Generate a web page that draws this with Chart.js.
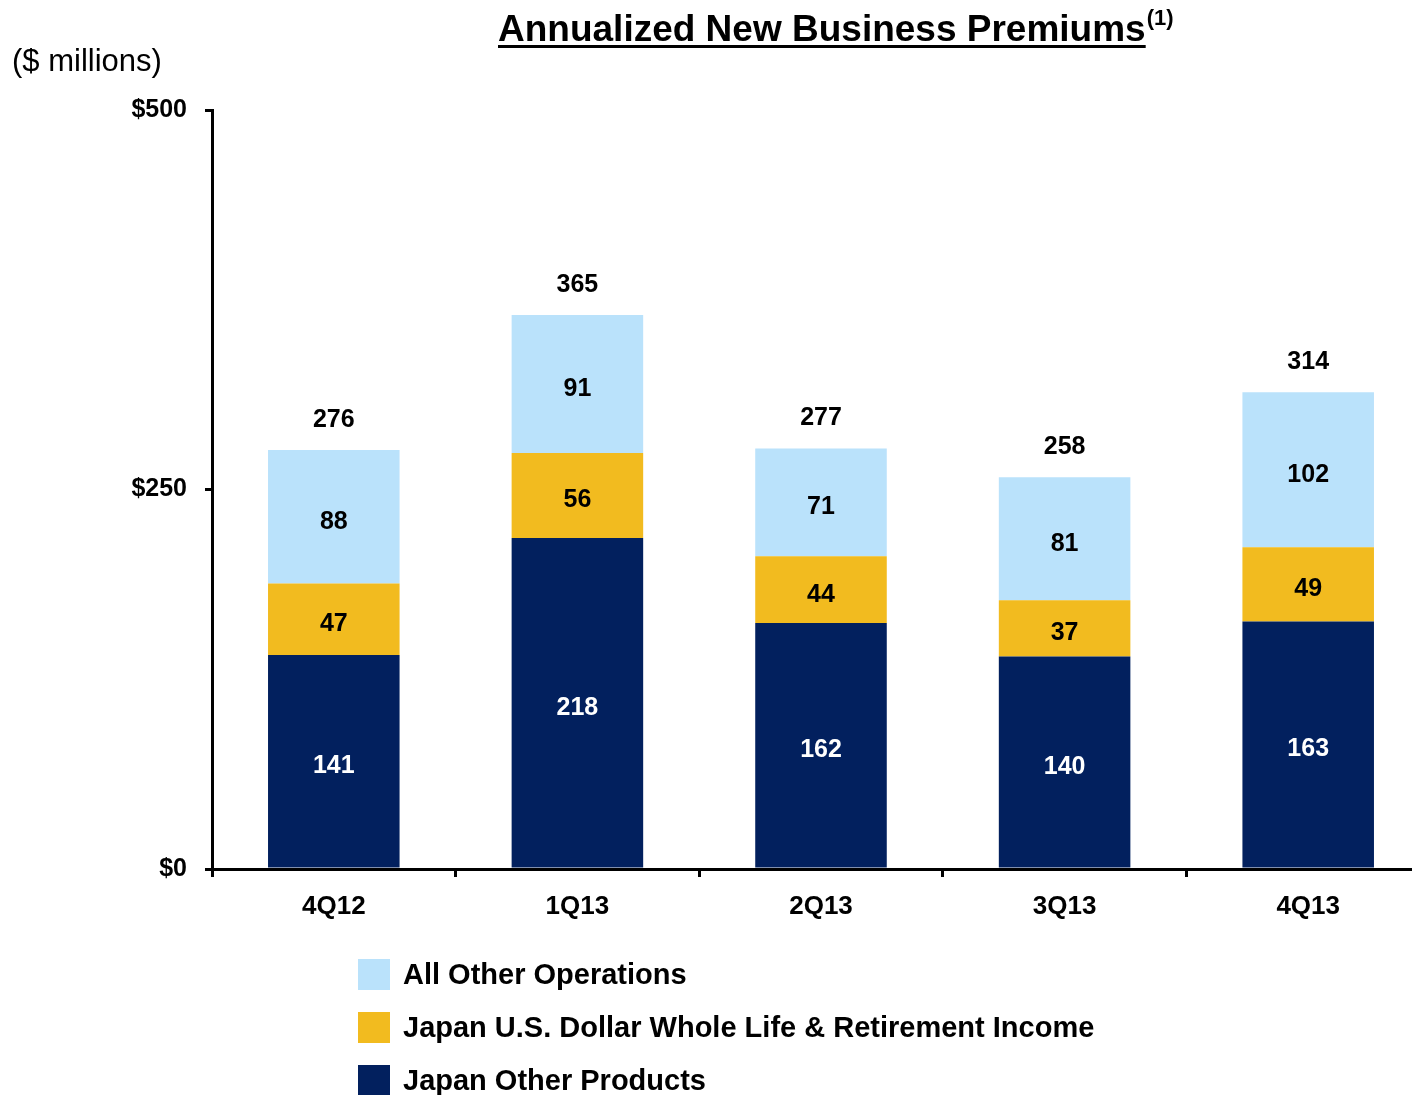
<!DOCTYPE html>
<html>
<head>
<meta charset="utf-8">
<script src="https://cdn.jsdelivr.net/npm/chart.js@4"></script>
<style>
  html, body { margin: 0; padding: 0; background: #fff; overflow: hidden; }
  body { width: 1412px; height: 1095px; position: relative; font-family: "Liberation Sans", Arial, sans-serif; }
  #wrap { position: absolute; left: 0; top: 0; width: 1430px; height: 1095px; }
  #title { position: absolute; left: 498px; top: 8px; font-size: 37px; font-weight: bold; color: #000; white-space: nowrap; }
  #title u { text-decoration-thickness: 3px; text-underline-offset: 4px; }
  #title sup { font-size: 22px; vertical-align: 0; position: relative; top: -16px; margin-left: 1px; }
  #units { position: absolute; left: 12px; top: 43px; font-size: 31px; color: #000; }
  #legend { position: absolute; left: 358px; top: 948px; }
  .item { display: flex; align-items: center; height: 53px; }
  .box { width: 32px; height: 31px; margin-right: 13px; }
  .item span { font-size: 29px; font-weight: bold; color: #000; white-space: nowrap; }
</style>
</head>
<body>
<div id="wrap"><canvas id="chart" width="1430" height="1095"></canvas></div>
<div id="title"><u>Annualized New Business Premiums</u><sup>(1)</sup></div>
<div id="units">($ millions)</div>
<div id="legend"></div>
<script>
// Chart data
const quarters = ["4Q12", "1Q13", "2Q13", "3Q13", "4Q13"];
const japanOther = [141, 218, 162, 140, 163];
const japanUsd = [47, 56, 44, 37, 49];
const allOther = [88, 91, 71, 81, 102];
const totals = [276, 365, 277, 258, 314];
const yTicks = [0, 250, 500];

const seriesNames = [
  "Japan Other Products",
  "Japan U.S. Dollar Whole Life & Retirement Income",
  "All Other Operations",
];
const seriesColors = ["#02205E", "#F2BB1F", "#BAE2FB"];
const labelColors = ["#fff", "#000", "#000"];

const FONT = "'Liberation Sans', Arial, sans-serif";

// value labels inside segments + totals on top
const barLabels = {
  id: "barLabels",
  afterDatasetsDraw(chart) {
    const ctx = chart.ctx;
    ctx.save();
    ctx.font = "bold 25px " + FONT;
    ctx.textAlign = "center";
    ctx.textBaseline = "middle";
    chart.data.datasets.forEach((ds, i) => {
      const meta = chart.getDatasetMeta(i);
      meta.data.forEach((bar, j) => {
        ctx.fillStyle = labelColors[i];
        ctx.fillText(ds.data[j], bar.x, (bar.y + bar.base) / 2 + 5);
      });
    });
    const top = chart.getDatasetMeta(chart.data.datasets.length - 1);
    top.data.forEach((bar, j) => {
      ctx.fillStyle = "#000";
      ctx.fillText(totals[j], bar.x, bar.y - 30);
    });
    ctx.restore();
  },
};

const ctx = document.getElementById("chart").getContext("2d");
new Chart(ctx, {
  type: "bar",
  data: {
    labels: quarters,
    datasets: [japanOther, japanUsd, allOther].map((d, i) => ({
      label: seriesNames[i],
      data: d,
      backgroundColor: seriesColors[i],
      borderWidth: 0,
      categoryPercentage: 1,
      barPercentage: 0.54,
    })),
  },
  options: {
    responsive: false,
    animation: false,
    layout: { padding: { top: 110, right: 0, bottom: 166, left: 0 } },
    plugins: {
      legend: { display: false },
      tooltip: { enabled: false },
    },
    scales: {
      x: {
        stacked: true,
        border: { color: "#000", width: 3 },
        grid: {
          drawOnChartArea: false,
          drawTicks: true,
          tickLength: 8,
          color: "#000",
          lineWidth: 3,
        },
        ticks: {
          color: "#000",
          padding: 14,
          font: { family: FONT, size: 26, weight: "bold" },
        },
        afterFit: (scale) => { scale.height = 60; },
      },
      y: {
        stacked: true,
        min: 0,
        max: 500,
        afterBuildTicks: (scale) => { scale.ticks = yTicks.map((v) => ({ value: v })); },
        border: { color: "#000", width: 3 },
        grid: {
          drawOnChartArea: false,
          drawTicks: true,
          tickLength: 7,
          color: "#000",
          lineWidth: 3,
        },
        ticks: {
          color: "#000",
          padding: 18,
          font: { family: FONT, size: 25, weight: "bold" },
          callback: (v) => "$" + v,
        },
        afterFit: (scale) => { scale.width = 212; },
      },
    },
  },
  plugins: [barLabels],
});

// legend, top series first
const legend = document.getElementById("legend");
[2, 1, 0].forEach((i) => {
  const row = document.createElement("div");
  row.className = "item";
  row.innerHTML = '<div class="box" style="background:' + seriesColors[i] + '"></div><span></span>';
  row.querySelector("span").textContent = seriesNames[i];
  legend.appendChild(row);
});
</script>
</body>
</html>
